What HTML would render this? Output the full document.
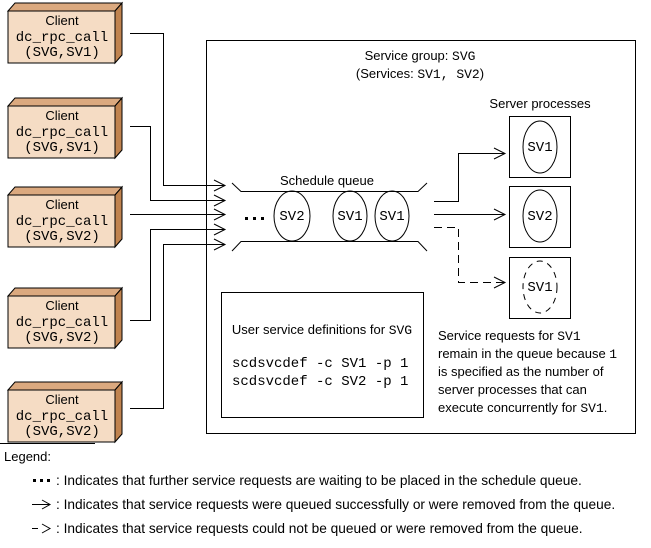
<!DOCTYPE html>
<html><head><meta charset="utf-8"><style>
html,body{margin:0;padding:0;background:#fff;}
svg{display:block;}
.s{font-family:"Liberation Sans",sans-serif;font-size:13px;fill:#000;}
.l{font-family:"Liberation Sans",sans-serif;font-size:13.7px;fill:#000;}
.m{font-family:"Liberation Mono",monospace;font-size:14px;fill:#000;}
.t{font-family:"Liberation Mono",monospace;font-size:13px;}
</style></head><body>
<svg width="651" height="548" viewBox="0 0 651 548" xmlns="http://www.w3.org/2000/svg">
<defs>
<g id="cl">
<polygon points="8,11 115,11 122,3 15,3" fill="#dba97f" stroke="#000"/>
<polygon points="115,11 122,3 122,55 115,63" fill="#c0834f" stroke="#000"/>
<rect x="8" y="11" width="107" height="52" fill="#f5dcc4" stroke="#000"/>
<text class="s" x="62" y="25" text-anchor="middle">Client</text>
<text class="m" x="62" y="41" text-anchor="middle">dc_rpc_call</text>
</g>
</defs>
<g fill="none" stroke="#000">
<rect x="206.5" y="40.5" width="429" height="393"/>
<rect x="221.5" y="292.5" width="202" height="125"/>
<rect x="509.5" y="116.5" width="61" height="61"/>
<rect x="509.5" y="186.5" width="61" height="61"/>
<rect x="509.5" y="257.5" width="61" height="61"/>
<ellipse cx="540" cy="147" rx="17" ry="26"/>
<ellipse cx="540" cy="216" rx="17" ry="26"/>
<ellipse cx="540" cy="287" rx="17" ry="26" stroke-dasharray="6,5"/>
<ellipse cx="292" cy="216" rx="18" ry="25"/>
<ellipse cx="350" cy="216" rx="17" ry="25"/>
<ellipse cx="392" cy="216" rx="17" ry="25"/>
<polyline points="232,183 241,191.5 418,191.5 427,183"/>
<polyline points="232,251 241,241.5 418,241.5 427,251"/>
<polyline points="130,33.5 163.5,33.5 163.5,185.5 225,185.5"/>
<polyline points="130,126.5 150.5,126.5 150.5,200.5 225,200.5"/>
<polyline points="130,214.5 225,214.5"/>
<polyline points="130,320.5 150.5,320.5 150.5,229.5 225,229.5"/>
<polyline points="130,408.5 163.5,408.5 163.5,244.5 225,244.5"/>
<polyline points="434,201.5 458.5,201.5 458.5,153.5 505,153.5"/>
<polyline points="434,214.5 505,214.5"/>
<polyline points="434,227.5 458.5,227.5 458.5,282.5 505,282.5" stroke-dasharray="8,5"/>
<path d="M214,180 L225,185.5 L214,191 M214,195 L225,200.5 L214,206 M214,209 L225,214.5 L214,220 M214,224 L225,229.5 L214,235 M214,239 L225,244.5 L214,250"/>
<path d="M494,148 L505,153.5 L494,159 M494,209 L505,214.5 L494,220 M494,277 L505,282.5 L494,288"/>
<line x1="0" y1="443.5" x2="95" y2="443.5"/>
<line x1="32" y1="504.5" x2="50" y2="504.5"/>
<path d="M42,500 L50,504.5 L42,509"/>
<line x1="32" y1="528.5" x2="38" y2="528.5"/>
<path d="M42,524 L50,528.5 L42,533"/>
</g>
<use href="#cl" x="0" y="0"/><text class="m" x="62" y="56" text-anchor="middle">(SVG,SV1)</text>
<use href="#cl" x="0" y="95"/><text class="m" x="62" y="151" text-anchor="middle">(SVG,SV1)</text>
<use href="#cl" x="0" y="184"/><text class="m" x="62" y="240" text-anchor="middle">(SVG,SV2)</text>
<use href="#cl" x="0" y="285"/><text class="m" x="62" y="341" text-anchor="middle">(SVG,SV2)</text>
<use href="#cl" x="0" y="379"/><text class="m" x="62" y="435" text-anchor="middle">(SVG,SV2)</text>
<g fill="#000"><rect x="245" y="217" width="3" height="3"/><rect x="253" y="217" width="3" height="3"/><rect x="261" y="217" width="3" height="3"/>
<rect x="33" y="479" width="3" height="3"/><rect x="40" y="479" width="3" height="3"/><rect x="47" y="479" width="3" height="3"/></g>
<text class="s" x="420" y="60" text-anchor="middle">Service group: <tspan class="t">SVG</tspan></text>
<text class="s" x="420" y="78" text-anchor="middle">(Services: <tspan class="t">SV1, SV2</tspan>)</text>
<text class="s" x="540" y="108" text-anchor="middle">Server processes</text>
<text class="s" x="327" y="185" text-anchor="middle">Schedule queue</text>
<text class="m" x="292" y="220" text-anchor="middle">SV2</text>
<text class="m" x="350" y="220" text-anchor="middle">SV1</text>
<text class="m" x="392" y="220" text-anchor="middle">SV1</text>
<text class="m" x="540" y="151" text-anchor="middle">SV1</text>
<text class="m" x="540" y="220" text-anchor="middle">SV2</text>
<text class="m" x="540" y="291" text-anchor="middle">SV1</text>
<text class="s" x="322" y="334" text-anchor="middle">User service definitions for <tspan class="t">SVG</tspan></text>
<text class="m" x="232" y="367">scdsvcdef -c SV1 -p 1</text>
<text class="m" x="232" y="385">scdsvcdef -c SV2 -p 1</text>
<text class="s" x="438" y="340">Service requests for <tspan class="t">SV1</tspan></text>
<text class="s" x="438" y="358">remain in the queue because <tspan class="t">1</tspan></text>
<text class="s" x="438" y="376">is specified as the number of</text>
<text class="s" x="438" y="394">server processes that can</text>
<text class="s" x="438" y="412">execute concurrently for <tspan class="t">SV1</tspan>.</text>
<text class="s" x="4" y="461">Legend:</text>
<text class="l" x="56" y="485">: Indicates that further service requests are waiting to be placed in the schedule queue.</text>
<text class="l" x="56" y="509">: Indicates that service requests were queued successfully or were removed from the queue.</text>
<text class="l" x="56" y="533">: Indicates that service requests could not be queued or were removed from the queue.</text>
</svg>
</body></html>
